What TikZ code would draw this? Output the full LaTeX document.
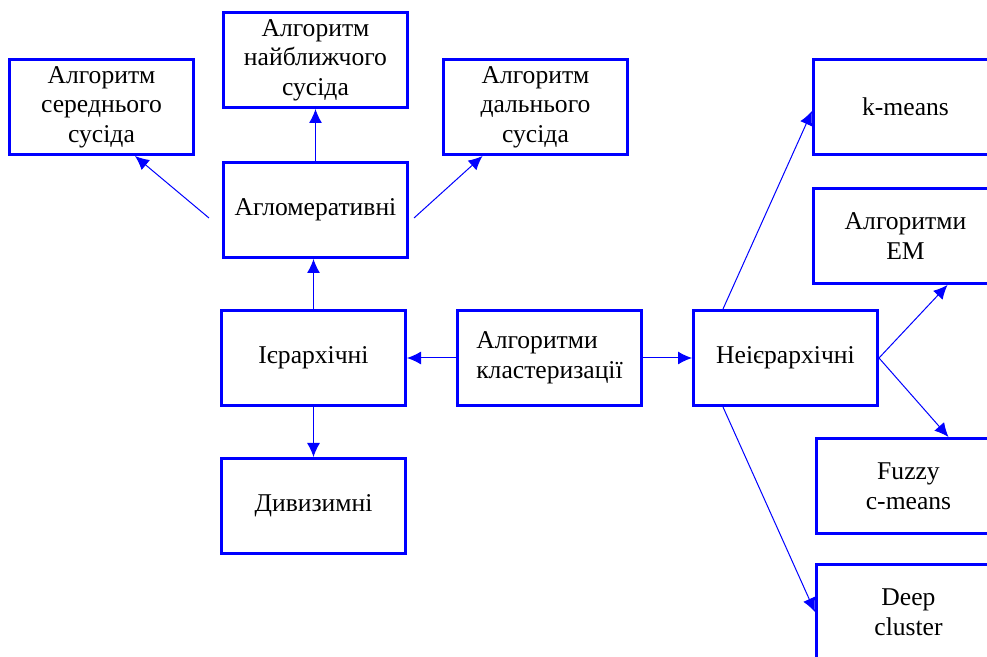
\documentclass[tikz,border=0pt]{standalone}
\usepackage{fontspec}
\setmainfont{Liberation Serif}
\usetikzlibrary{arrows.meta}

\begin{document}
\begin{tikzpicture}[x=0.5pt, y=-0.5pt, node distance={118pt},
	box/.style = {draw=blue, line width=1.5pt, rectangle, minimum width=92pt, minimum height=47.5pt, inner sep=2pt, align=center, font=\fontsize{12.8}{14.75}\selectfont},
	arr/.style = {draw=blue, line width=0.5pt, -{Latex[length=7pt, width=6.5pt]}}]
		\useasboundingbox (0,0) rectangle (987,657);
		\node[box, align=left] (clust) at (549.5,358) {Алгоритми\\кластеризації};
		\node[box] (hier) [left of=clust] {Ієрархічні};
		\node[box] (nonh) [right of=clust] {Неієрархічні};
		\node[box] (aglo) [above of=hier, node distance=74pt, xshift=1pt] {Агломеративні};
		\node[box] (div) [below of=hier, node distance=74pt] {Дивизимні};
		\node[box] (near) [above of=aglo, node distance=75pt] {Алгоритм\\найближчого\\сусіда};
		\node[box] (mid) [left of=near, node distance=107pt, yshift=-23.5pt] {Алгоритм\\середнього\\сусіда};
		\node[box] (far) [right of=near, node distance=110pt, yshift=-23.5pt] {Алгоритм\\дальнього\\сусіда};
		\node[box] (kmeans) [right of=far, node distance=185pt] {k-means};
		\node[box] (em) [below of=kmeans, node distance=64.5pt] {Алгоритми\\EM};
		\node[box] (fuzzy) [below of=em, node distance=125pt, xshift=1.5pt] {Fuzzy\\c-means};
		\node[box] (deep) [below of=fuzzy, node distance=63pt] {Deep\\cluster};
		
		\coordinate (aglo-l) at ([xshift=-6.5pt, yshift=-4pt]aglo.west);
		\coordinate (aglo-r) at ([xshift=2.5pt, yshift=-4pt]aglo.east);
		
		\draw[arr] (clust) -- (hier);
		\draw[arr] (clust) -- (nonh);
		\draw[arr] (hier.north) -- (hier.north |- aglo.south);
		\draw[arr] (hier) -- (div);
		\draw[arr] (aglo.north) -- (near.south);
		\draw[arr] (aglo-l) -- ([xshift=16.75pt]mid.south);
		\draw[arr] (aglo-r) -- ([xshift=-26.5pt]far.south);
		\draw[arr] ([xshift=15.5pt]nonh.north west) -- ([yshift=-2pt]kmeans.west);
		\draw[arr] (nonh.east) -- ([xshift=21pt]em.south);
		\draw[arr] (nonh.east) -- ([xshift=20pt]fuzzy.north);
		\draw[arr] ([xshift=15.5pt]nonh.south west) -- (deep.west);
	\end{tikzpicture}
\end{document}
